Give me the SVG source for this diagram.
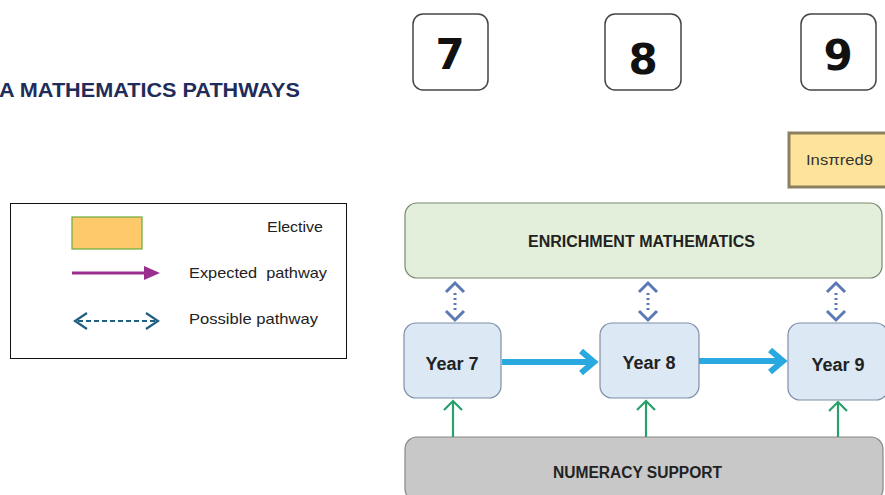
<svg xmlns="http://www.w3.org/2000/svg" width="885" height="495" viewBox="0 0 885 495">
<style>
.t{font-family:"Liberation Sans",Arial,sans-serif;fill:#222}
.b{font-weight:bold}
.num{font-family:"DejaVu Sans",sans-serif;font-weight:bold;font-size:42px;fill:#111;text-anchor:middle}
.nbox{fill:#fff;stroke:#444;stroke-width:1.5}
.year{fill:#dce8f3;stroke:#7d90a8;stroke-width:1.2}
.dbl{fill:none;stroke:#5b79b5;stroke-width:3}
.dot{stroke:#5b79b5;stroke-width:3;stroke-dasharray:2 3}
.grn{fill:none;stroke:#2aa06a;stroke-width:2.2}
.blu{fill:none;stroke:#29a9df;stroke-width:6}
</style>
<rect width="885" height="495" fill="#fff"/>
<text class="t b" x="-1" y="97" font-size="21" style="fill:#1f2d5a" textLength="301" lengthAdjust="spacingAndGlyphs">A MATHEMATICS PATHWAYS</text>

<g id="box7"><rect class="nbox" x="413" y="14" width="75" height="76" rx="10"/><text class="num" x="450" y="69">7</text></g>
<g id="box8"><rect class="nbox" x="605" y="14" width="76" height="76" rx="10"/><text class="num" x="643" y="74">8</text></g>
<g id="box9"><rect class="nbox" x="801" y="14" width="75" height="76" rx="10"/><text class="num" x="838" y="70">9</text></g>

<g id="inspired"><rect x="789" y="133" width="100" height="54" fill="#fde49a" stroke="#8a8060" stroke-width="3"/><text class="t" x="806" y="165" font-size="15" style="fill:#333" textLength="67" lengthAdjust="spacingAndGlyphs">Insπred9</text></g>

<g id="legend">
<rect x="10.5" y="203.5" width="336" height="155" fill="#fff" stroke="#111" stroke-width="1"/>
<rect x="72" y="217" width="70" height="32" fill="#fdc96a" stroke="#6aaa3a" stroke-width="1.2"/>
<text class="t" x="267" y="232" font-size="15" textLength="56" lengthAdjust="spacingAndGlyphs">Elective</text>
<line x1="72" y1="273" x2="148" y2="273" stroke="#9b2d8e" stroke-width="3"/>
<polygon points="144,266 160,273 144,280" fill="#9b2d8e"/>
<text class="t" x="189" y="278" font-size="15" xml:space="preserve" textLength="138" lengthAdjust="spacingAndGlyphs">Expected  pathway</text>
<line x1="78" y1="321" x2="155" y2="321" stroke="#1f5f7f" stroke-width="2.2" stroke-dasharray="5 3"/>
<polyline points="87,313 75,321 87,329" fill="none" stroke="#1f5f7f" stroke-width="2.2"/>
<polyline points="146,313 158,321 146,329" fill="none" stroke="#1f5f7f" stroke-width="2.2"/>
<text class="t" x="189" y="324" font-size="15" textLength="129" lengthAdjust="spacingAndGlyphs">Possible pathway</text>
</g>

<g id="enrichment"><rect x="405" y="203" width="477" height="75" rx="12" fill="#e3efda" stroke="#7a8a70" stroke-width="1.2"/><text class="t b" x="528" y="247" font-size="16" textLength="227" lengthAdjust="spacingAndGlyphs">ENRICHMENT MATHEMATICS</text></g>

<g id="year7"><rect class="year" x="404" y="323" width="97" height="75" rx="12"/><text class="t b" x="452" y="370" font-size="18" text-anchor="middle">Year 7</text></g>
<g id="year8"><rect class="year" x="600" y="323" width="99" height="75" rx="12"/><text class="t b" x="649" y="369" font-size="18" text-anchor="middle">Year 8</text></g>
<g id="year9"><rect class="year" x="788" y="323" width="100" height="77" rx="12"/><text class="t b" x="838" y="371" font-size="18" text-anchor="middle">Year 9</text></g>

<g id="numeracy"><rect x="405" y="437" width="478" height="64" rx="12" fill="#c8c8c8" stroke="#888" stroke-width="1.2"/><text class="t b" x="553" y="478" font-size="16" textLength="169" lengthAdjust="spacingAndGlyphs">NUMERACY SUPPORT</text></g>

<g id="connectors">
<g>
<polyline class="dbl" points="446,292 455,283 464,292"/><line class="dot" x1="455" y1="293" x2="455" y2="310"/><polyline class="dbl" points="446,311 455,320 464,311"/>
<polyline class="dbl" points="639,292 648,283 657,292"/><line class="dot" x1="648" y1="293" x2="648" y2="310"/><polyline class="dbl" points="639,311 648,320 657,311"/>
<polyline class="dbl" points="827,292 836,283 845,292"/><line class="dot" x1="836" y1="293" x2="836" y2="310"/><polyline class="dbl" points="827,311 836,320 845,311"/>
</g>
<line class="blu" x1="502" y1="362" x2="594" y2="362"/><polyline class="blu" points="581,351 594,362 581,373" stroke-width="5"/>
<line class="blu" x1="699" y1="361" x2="783" y2="361"/><polyline class="blu" points="770,350 783,361 770,372" stroke-width="5"/>
<line class="grn" x1="453" y1="437" x2="453" y2="401"/><polyline class="grn" points="444,410 453,401 462,410"/>
<line class="grn" x1="646" y1="437" x2="646" y2="401"/><polyline class="grn" points="637,410 646,401 655,410"/>
<line class="grn" x1="838" y1="437" x2="838" y2="402"/><polyline class="grn" points="829,411 838,402 847,411"/>
</g>
</svg>
